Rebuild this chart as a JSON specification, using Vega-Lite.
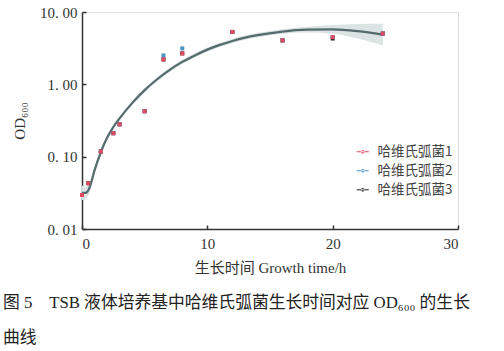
{
  "$schema": "https://vega.github.io/schema/vega-lite/v6.json",
  "autosize": "none",
  "width": 376,
  "height": 217,
  "padding": {"left": 82, "top": 12, "right": 46, "bottom": 122},
  "background": "white",
  "title": {
    "text": ["图 5\u2003TSB 液体培养基中哈维氏弧菌生长时间对应 OD₆₀₀ 的生长", "\u3000\u3000\u2009曲线"],
    "orient": "bottom",
    "anchor": "start",
    "frame": "group",
    "dx": -79,
    "offset": 20,
    "fontSize": 16.8,
    "lineHeight": 35,
    "font": "Liberation Serif, Noto Sans CJK SC",
    "fontWeight": "normal",
    "color": "#222"
  },
  "datasets": {
    "fit": [
      {"t": 0, "od": 0.0316, "lo": 0.0251, "hi": 0.0398},
      {"t": 0.3, "od": 0.0316, "lo": 0.026, "hi": 0.0384},
      {"t": 0.6, "od": 0.0372, "lo": 0.0317, "hi": 0.0437},
      {"t": 1, "od": 0.0646, "lo": 0.0569, "hi": 0.0733},
      {"t": 1.5, "od": 0.1148, "lo": 0.1035, "hi": 0.1273},
      {"t": 2, "od": 0.182, "lo": 0.1661, "hi": 0.1995},
      {"t": 2.5, "od": 0.257, "lo": 0.2371, "hi": 0.2786},
      {"t": 3, "od": 0.339, "lo": 0.3162, "hi": 0.3634},
      {"t": 4, "od": 0.55, "lo": 0.5155, "hi": 0.5869},
      {"t": 5, "od": 0.832, "lo": 0.7798, "hi": 0.8877},
      {"t": 6, "od": 1.175, "lo": 1.101, "hi": 1.254},
      {"t": 7, "od": 1.585, "lo": 1.485, "hi": 1.691},
      {"t": 8, "od": 2.042, "lo": 1.914, "hi": 2.179},
      {"t": 9, "od": 2.512, "lo": 2.354, "hi": 2.68},
      {"t": 10, "od": 3.02, "lo": 2.83, "hi": 3.222},
      {"t": 11, "od": 3.508, "lo": 3.288, "hi": 3.743},
      {"t": 12, "od": 3.981, "lo": 3.731, "hi": 4.248},
      {"t": 14, "od": 4.786, "lo": 4.486, "hi": 5.107},
      {"t": 16, "od": 5.37, "lo": 5.009, "hi": 5.757},
      {"t": 18, "od": 5.689, "lo": 5.191, "hi": 6.235},
      {"t": 20, "od": 5.754, "lo": 5.012, "hi": 6.606},
      {"t": 22, "od": 5.433, "lo": 4.315, "hi": 6.84},
      {"t": 24, "od": 4.853, "lo": 3.435, "hi": 6.857}
    ],
    "obs": [
      {"t": 0, "od": 0.0295, "strain": "哈维氏弧菌3"},
      {"t": 0.5, "od": 0.043, "strain": "哈维氏弧菌3"},
      {"t": 1.5, "od": 0.118, "strain": "哈维氏弧菌3"},
      {"t": 2.5, "od": 0.211, "strain": "哈维氏弧菌3"},
      {"t": 3, "od": 0.28, "strain": "哈维氏弧菌3"},
      {"t": 5, "od": 0.425, "strain": "哈维氏弧菌3"},
      {"t": 6.5, "od": 2.21, "strain": "哈维氏弧菌3"},
      {"t": 8, "od": 2.68, "strain": "哈维氏弧菌3"},
      {"t": 12, "od": 5.3, "strain": "哈维氏弧菌3"},
      {"t": 16, "od": 4.05, "strain": "哈维氏弧菌3"},
      {"t": 20, "od": 4.3, "strain": "哈维氏弧菌3"},
      {"t": 24, "od": 5.05, "strain": "哈维氏弧菌3"},
      {"t": 0, "od": 0.0295, "strain": "哈维氏弧菌2"},
      {"t": 0.5, "od": 0.043, "strain": "哈维氏弧菌2"},
      {"t": 1.5, "od": 0.118, "strain": "哈维氏弧菌2"},
      {"t": 2.5, "od": 0.211, "strain": "哈维氏弧菌2"},
      {"t": 3, "od": 0.28, "strain": "哈维氏弧菌2"},
      {"t": 5, "od": 0.425, "strain": "哈维氏弧菌2"},
      {"t": 6.5, "od": 2.51, "strain": "哈维氏弧菌2"},
      {"t": 8, "od": 3.14, "strain": "哈维氏弧菌2"},
      {"t": 12, "od": 5.3, "strain": "哈维氏弧菌2"},
      {"t": 16, "od": 4.05, "strain": "哈维氏弧菌2"},
      {"t": 20, "od": 4.5, "strain": "哈维氏弧菌2"},
      {"t": 24, "od": 5.05, "strain": "哈维氏弧菌2"},
      {"t": 0, "od": 0.0295, "strain": "哈维氏弧菌1"},
      {"t": 0.5, "od": 0.043, "strain": "哈维氏弧菌1"},
      {"t": 1.5, "od": 0.118, "strain": "哈维氏弧菌1"},
      {"t": 2.5, "od": 0.211, "strain": "哈维氏弧菌1"},
      {"t": 3, "od": 0.28, "strain": "哈维氏弧菌1"},
      {"t": 5, "od": 0.425, "strain": "哈维氏弧菌1"},
      {"t": 6.5, "od": 2.21, "strain": "哈维氏弧菌1"},
      {"t": 8, "od": 2.68, "strain": "哈维氏弧菌1"},
      {"t": 12, "od": 5.3, "strain": "哈维氏弧菌1"},
      {"t": 16, "od": 4.05, "strain": "哈维氏弧菌1"},
      {"t": 20, "od": 4.5, "strain": "哈维氏弧菌1"},
      {"t": 24, "od": 5.05, "strain": "哈维氏弧菌1"}
    ]
  },
  "encoding": {
    "x": {
      "field": "t",
      "type": "quantitative",
      "scale": {"domain": [0, 30], "nice": false, "zero": false},
      "axis": {
        "title": "生长时间 Growth time/h",
        "values": [0, 10, 20, 30],
        "grid": false,
        "domainColor": "#333",
        "domainWidth": 1.5,
        "tickColor": "#333",
        "tickWidth": 1.5,
        "tickSize": -4,
        "labelPadding": 11,
        "labelFont": "Liberation Serif",
        "labelFontSize": 15,
        "labelColor": "#333",
        "titleFont": "Liberation Serif, Noto Sans CJK SC",
        "titleFontSize": 15,
        "titleFontWeight": "normal",
        "titleColor": "#333",
        "titlePadding": 9
      }
    },
    "y": {
      "field": "od",
      "type": "quantitative",
      "scale": {"type": "log", "domain": [0.01, 10], "nice": false},
      "axis": {
        "title": "OD₆₀₀",
        "values": [0.01, 0.1, 1, 10],
        "labelExpr": "replace(format(datum.value, '.2f'), '.', '. ')",
        "grid": false,
        "domainColor": "#333",
        "domainWidth": 1.5,
        "tickColor": "#333",
        "tickWidth": 1.5,
        "tickSize": -4,
        "labelPadding": 9,
        "labelFont": "Liberation Serif",
        "labelFontSize": 15,
        "labelColor": "#333",
        "titleFont": "Liberation Serif",
        "titleFontSize": 15,
        "titleFontWeight": "normal",
        "titleColor": "#333",
        "titlePadding": 12
      }
    }
  },
  "layer": [
    {
      "data": {"name": "fit"},
      "mark": {"type": "area", "color": "#dce3e3", "opacity": 1, "interpolate": "monotone"},
      "encoding": {
        "y": {"field": "lo", "type": "quantitative"},
        "y2": {"field": "hi"}
      }
    },
    {
      "data": {"name": "fit"},
      "mark": {"type": "line", "color": "#546c6c", "strokeWidth": 2.2, "interpolate": "monotone"},
      "encoding": {}
    },
    {
      "data": {"name": "obs"},
      "mark": {"type": "square", "size": 16, "opacity": 1},
      "encoding": {
        "color": {
          "field": "strain",
          "type": "nominal",
          "scale": {"domain": ["哈维氏弧菌1", "哈维氏弧菌2", "哈维氏弧菌3"], "range": ["#e04a60", "#4a92c4", "#222222"]},
          "legend": {
            "title": null,
            "orient": "none",
            "legendX": 274,
            "legendY": 133,
            "padding": 0,
            "symbolType": "M-1,-0.08L1,-0.08L1,0.08L-1,0.08Z M-0.3,0A0.3,0.3,0,1,0,0.3,0A0.3,0.3,0,1,0,-0.3,0Z",
            "symbolSize": 144,
            "symbolStrokeWidth": 0,
            "symbolOpacity": 1,
            "labelFont": "Noto Sans CJK SC",
            "labelFontSize": 13.5,
            "labelColor": "#444",
            "labelOffset": 8,
            "rowPadding": 4
          }
        }
      }
    }
  ]
}
